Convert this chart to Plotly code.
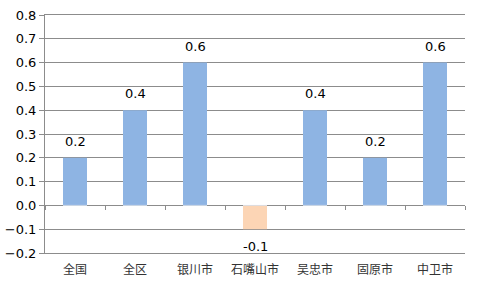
import plotly.graph_objects as go

categories = ["全国", "全区", "银川市", "石嘴山市", "吴忠市", "固原市", "中卫市"]
values = [0.2, 0.4, 0.6, -0.1, 0.4, 0.2, 0.6]
y_ticks = [-0.2, -0.1, 0.0, 0.1, 0.2, 0.3, 0.4, 0.5, 0.6, 0.7, 0.8]

colors = ["#8EB4E3" if v >= 0 else "#FCD5B5" for v in values]

fig = go.Figure()
fig.add_trace(go.Bar(
    x=categories, y=values, marker=dict(color=colors, line=dict(width=0)),
    xaxis="x", yaxis="y", hoverinfo="x+y",
))
# invisible trace for the boundary tick marks on the zero line
fig.add_trace(go.Bar(x=categories, y=[0]*len(categories), xaxis="x2", yaxis="y",
                     marker=dict(color="rgba(0,0,0,0)"), showlegend=False, hoverinfo="skip"))

for c, v in zip(categories, values):
    fig.add_annotation(
        x=c, y=v, xref="x", yref="y", text=f"{v:.1f}", showarrow=False,
        yanchor="bottom" if v >= 0 else "top", yshift=7 if v >= 0 else -8,
        font=dict(family="DejaVu Sans", size=13, color="#000000"),
    )

fig.update_layout(
    width=480, height=288,
    margin=dict(l=45, r=15, t=15, b=35, autoexpand=False),
    paper_bgcolor="white", plot_bgcolor="white",
    showlegend=False, bargap=0.6, barmode="overlay",
    xaxis=dict(
        type="category", categoryorder="array", categoryarray=categories,
        showline=True, mirror=True, linecolor="#8C8C8C", linewidth=1,
        showgrid=False, ticks="", ticklabelstandoff=6, automargin=False,
        tickfont=dict(family="Noto Sans CJK SC", size=12, color="#333333"),
    ),
    xaxis2=dict(
        type="category", categoryorder="array", categoryarray=categories,
        overlaying="x", matches="x", anchor="free", position=0.2,
        showline=False, showgrid=False, showticklabels=False, automargin=False,
        ticks="outside", tickson="boundaries", ticklen=4, tickcolor="#8C8C8C", tickwidth=1,
    ),
    yaxis=dict(
        range=[-0.2, 0.8], tickvals=y_ticks, tickformat=".1f", automargin=False,
        showline=True, linecolor="#8C8C8C", linewidth=1,
        showgrid=True, gridcolor="#8C8C8C", gridwidth=1,
        zeroline=True, zerolinecolor="#8C8C8C", zerolinewidth=1,
        ticks="outside", ticklen=5, tickcolor="#8C8C8C",
        tickfont=dict(family="DejaVu Sans", size=13, color="#000000"),
    ),
)

fig.write_html("out.html")
